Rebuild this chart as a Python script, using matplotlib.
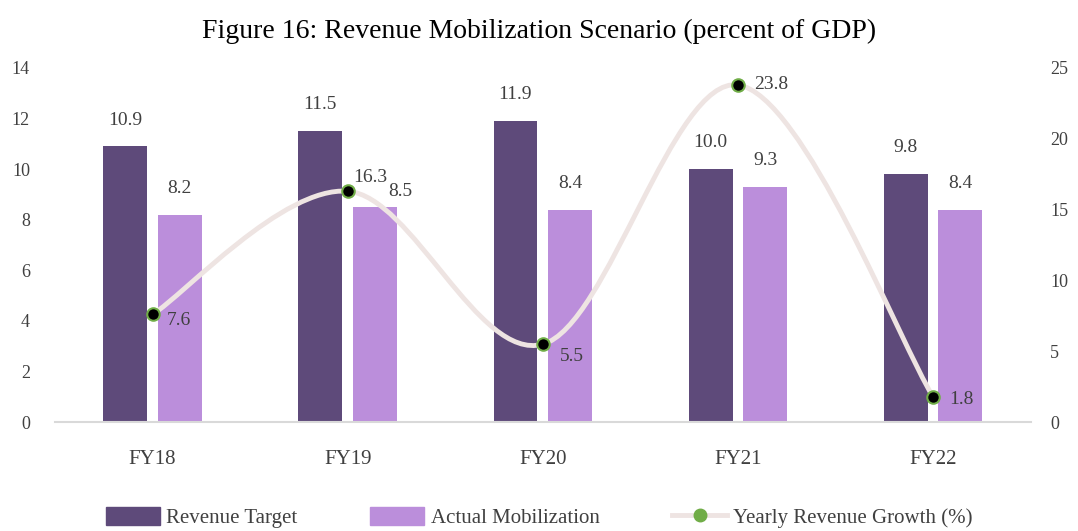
import numpy as np
import matplotlib
matplotlib.use("Agg")
import matplotlib.pyplot as plt
from matplotlib.path import Path
from matplotlib.patches import PathPatch, Patch
from matplotlib.lines import Line2D

plt.rcParams['font.family'] = ['Liberation Serif', 'DejaVu Serif']

years = ["FY18", "FY19", "FY20", "FY21", "FY22"]
revenue_target = [10.9, 11.5, 11.9, 10.0, 9.8]
actual_mobilization = [8.2, 8.5, 8.4, 9.3, 8.4]
yearly_growth = [7.6, 16.3, 5.5, 23.8, 1.8]

c_target = "#5E4A7A"
c_actual = "#BB8EDB"
c_line = "#EEE4E2"
c_text = "#404040"

fig = plt.figure(figsize=(10.78, 5.31), dpi=100)
ax = fig.add_axes([0.051, 0.205, 0.905, 0.667])
ax2 = ax.twinx()

x = np.arange(len(years))
w = 0.225
off = 0.14
ax.bar(x - off, revenue_target, w, color=c_target, zorder=2)
ax.bar(x + off, actual_mobilization, w, color=c_actual, zorder=2)
for xi, v in zip(x, revenue_target):
    ax.annotate(f"{v:.1f}", (xi - off, v), xytext=(0, 19), textcoords="offset points",
                ha="center", va="center", fontsize=14, color=c_text)
actual_offsets = [(0, 19), (18, 11), (0, 19), (0, 19), (0, 19)]
for xi, v, o in zip(x, actual_mobilization, actual_offsets):
    ax.annotate(f"{v:.1f}", (xi + off, v), xytext=o, textcoords="offset points",
                ha="center", va="center", fontsize=14, color=c_text)

ax.set_xlim(-0.5, len(years) - 0.5)
ax.set_ylim(0, 14)
ax.set_yticks(range(0, 15, 2))
ax2.set_ylim(0, 25)
ax2.set_yticks(range(0, 26, 5))
ax.set_xticks(x)
ax.set_xticklabels(years)

# smoothed line (Catmull-Rom -> cubic Bezier, like Excel smoothing)
px = list(x)
py = list(yearly_growth)
verts = [(px[0], py[0])]
codes = [Path.MOVETO]
n = len(px)
for i in range(n - 1):
    p0 = (px[max(i - 1, 0)], py[max(i - 1, 0)])
    p1 = (px[i], py[i])
    p2 = (px[i + 1], py[i + 1])
    p3 = (px[min(i + 2, n - 1)], py[min(i + 2, n - 1)])
    c1 = (p1[0] + (p2[0] - p0[0]) / 6, p1[1] + (p2[1] - p0[1]) / 6)
    c2 = (p2[0] - (p3[0] - p1[0]) / 6, p2[1] - (p3[1] - p1[1]) / 6)
    verts += [c1, c2, p2]
    codes += [Path.CURVE4] * 3
ax2.add_patch(PathPatch(Path(verts, codes), facecolor="none", edgecolor=c_line,
                        lw=3.5, capstyle="round", zorder=3))
ax2.plot(px, py, "o", ms=9, mfc="black", mec="#70AD47", mew=1.5, zorder=4)

label_offsets = [(10, -4), (4, 10), (12, -9), (12, 0), (12, -2)]
for xi, v, o in zip(px, py, label_offsets):
    ax2.annotate(f"{v:.1f}", (xi, v), xytext=o, textcoords="offset points",
                 ha="left", va="center", fontsize=14, color=c_text)

for a in (ax, ax2):
    for s in a.spines.values():
        s.set_visible(False)
    a.tick_params(length=0, labelsize=13, colors=c_text)
ax.spines["bottom"].set_visible(True)
ax.spines["bottom"].set_color("#D9D9D9")
ax.spines["bottom"].set_linewidth(1.5)
ax.tick_params(axis="x", labelsize=15, pad=20)
ax.tick_params(axis="y", pad=18)
ax2.tick_params(axis="y", pad=14)

fig.suptitle("Figure 16: Revenue Mobilization Scenario (percent of GDP)",
             fontsize=20, y=0.965, color="black")

handles = [Patch(color=c_target), Patch(color=c_actual),
           Line2D([], [], color=c_line, lw=3.5, marker="o", ms=9,
                  mfc="#70AD47", mec="#70AD47")]
fig.legend(handles, ["Revenue Target", "Actual Mobilization", "Yearly Revenue Growth (%)"],
           loc="lower center", bbox_to_anchor=(0.5, -0.03), ncol=3, frameon=False,
           fontsize=15, handlelength=2.6, handleheight=0.9, handletextpad=0.3,
           columnspacing=3.5, labelcolor=c_text)

fig.savefig("out.png", dpi=100)
